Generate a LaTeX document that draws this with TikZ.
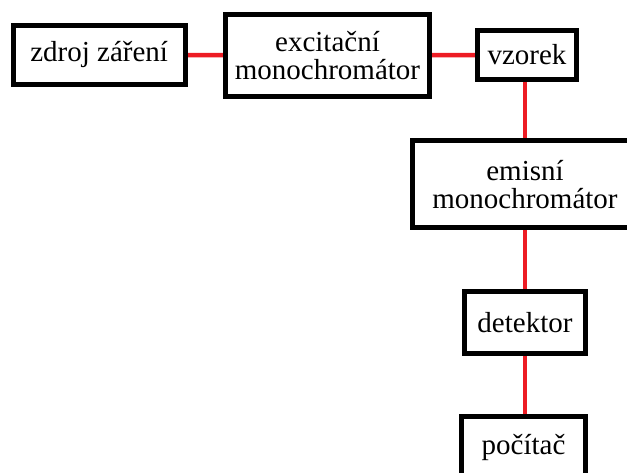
\documentclass[tikz,border=0pt]{standalone}
\usepackage{fontspec}
\setmainfont{Liberation Serif}
\newfontfamily\boxfont{Liberation Serif}
\usetikzlibrary{backgrounds}
\definecolor{linkred}{HTML}{ED1C24}
\begin{document}
\begin{tikzpicture}[x=1pt,y=-1pt,
  box/.style={draw=black, line width=5pt, fill=white, inner sep=0pt,
    align=center, font=\boxfont\fontsize{29}{28}\selectfont},
  link/.style={draw=linkred, line width=4.5pt, line cap=round}]
\useasboundingbox (0,0) rectangle (627,473);
\clip (0,0) rectangle (627,473);

% blocks of the fluorimeter
\node[box, minimum width=172pt, minimum height=59.6pt] (src) at (99.2,55) {zdroj záření};
\node[box, minimum width=204.6pt, minimum height=81.7pt] (exc) at (327.5,55.3) {excitační\\monochromátor};
\node[box, minimum width=99.6pt, minimum height=48.4pt] (smp) at (527,55) {vzorek};
\node[box, minimum width=225pt, minimum height=86.7pt] (emi) at (525,184.2) {emisní\\monochromátor};
\node[box, minimum width=121.6pt, minimum height=61.7pt] (det) at (525,322.7) {detektor};
\node[box, minimum width=123.4pt, minimum height=61.7pt] (pc) at (523.5,447.5) {počítač};

% connections between the blocks
\begin{scope}[on background layer]
  \draw[link] (src) -- (exc);
  \draw[link] (exc) -- (smp);
  \draw[link] (smp.south -| emi.north) -- (emi.north);
  \draw[link] (emi) -- (det);
  \draw[link] (det) -- (det |- pc.north);
\end{scope}
\end{tikzpicture}
\end{document}
